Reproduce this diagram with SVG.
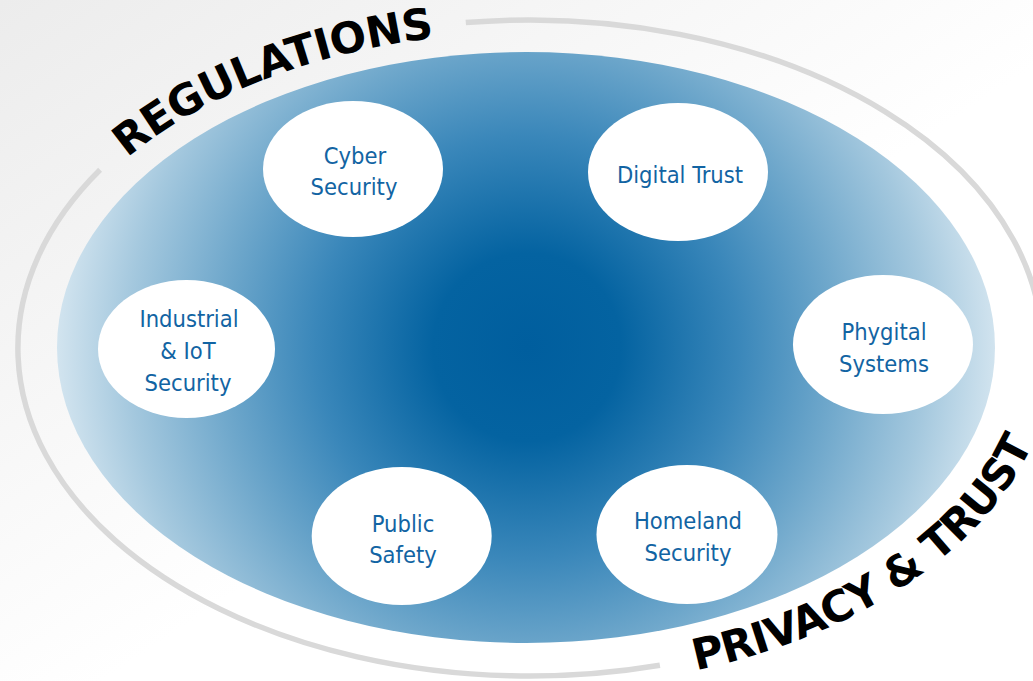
<svg xmlns="http://www.w3.org/2000/svg" width="1033" height="681" viewBox="0 0 1033 681">
  <defs>
    <linearGradient id="bg" x1="0" y1="0" x2="1" y2="1">
      <stop offset="0" stop-color="#ececec"/>
      <stop offset="0.55" stop-color="#ffffff"/>
      <stop offset="1" stop-color="#ffffff"/>
    </linearGradient>
    <radialGradient id="blue" gradientUnits="userSpaceOnUse" cx="527" cy="347" r="470">
      <stop offset="0" stop-color="#005e9e"/>
      <stop offset="0.2" stop-color="#0463a1"/>
      <stop offset="0.45" stop-color="#3a87ba"/>
      <stop offset="0.65" stop-color="#6ea7cb"/>
      <stop offset="0.85" stop-color="#a4c8de"/>
      <stop offset="1" stop-color="#d2e4ef"/>
    </radialGradient>
    <path id="regPath" d="M 107.3 175.9 A 504 316 0 0 1 617.5 36.8"/>
    <path id="privPath" d="M 674.4 674.8 A 524 340 0 0 0 1052 377.6"/>
    <style>
      .ring { fill: none; stroke: #d9d9d9; stroke-width: 5.5; }
      .node { fill: #ffffff; }
      .lbl { font-family: "DejaVu Sans Condensed", "DejaVu Sans", sans-serif; font-stretch: condensed; font-size: 23.5px; fill: #1264a3; text-anchor: middle; }
      .big { font-family: "DejaVu Sans", Verdana, sans-serif; font-weight: bold; font-size: 43px; fill: #000000; }
    </style>
  </defs>
  <rect x="0" y="0" width="1033" height="681" fill="url(#bg)"/>
  <g id="ring">
    <path class="ring" d="M 465.8 22.6 A 512 328 0 0 1 1040.1 376.6"/>
    <path class="ring" d="M 100.1 169.8 A 512 328 0 0 0 659.9 665.3"/>
  </g>
  <ellipse id="field" cx="526" cy="347.5" rx="469" ry="295.5" fill="url(#blue)"/>
  <g id="labels-outer">
    <text class="big"><textPath href="#regPath" startOffset="27" textLength="334" lengthAdjust="spacing">REGULATIONS</textPath></text>
    <text class="big"><textPath href="#privPath" startOffset="22" textLength="420" lengthAdjust="spacing">PRIVACY &amp; TRUST</textPath></text>
  </g>
  <g id="connectors"/>
  <g id="node-cyber">
    <ellipse class="node" cx="353" cy="169" rx="90" ry="68"/>
    <text class="lbl" x="355" y="164">Cyber</text>
    <text class="lbl" x="354" y="195">Security</text>
  </g>
  <g id="node-digital">
    <ellipse class="node" cx="678" cy="172" rx="90" ry="69"/>
    <text class="lbl" x="680" y="182.5">Digital Trust</text>
  </g>
  <g id="node-industrial">
    <ellipse class="node" cx="186.5" cy="349" rx="88.5" ry="69"/>
    <text class="lbl" x="189" y="327">Industrial</text>
    <text class="lbl" x="188" y="359">&amp; IoT</text>
    <text class="lbl" x="188" y="391">Security</text>
  </g>
  <g id="node-phygital">
    <ellipse class="node" cx="883" cy="344.5" rx="90" ry="69.5"/>
    <text class="lbl" x="884" y="340">Phygital</text>
    <text class="lbl" x="884" y="371.5">Systems</text>
  </g>
  <g id="node-public">
    <ellipse class="node" cx="401.7" cy="536" rx="90" ry="69"/>
    <text class="lbl" x="403" y="531.5">Public</text>
    <text class="lbl" x="403" y="563">Safety</text>
  </g>
  <g id="node-homeland">
    <ellipse class="node" cx="687" cy="534.5" rx="90.5" ry="69.5"/>
    <text class="lbl" x="688" y="528.5">Homeland</text>
    <text class="lbl" x="688" y="561">Security</text>
  </g>
</svg>
